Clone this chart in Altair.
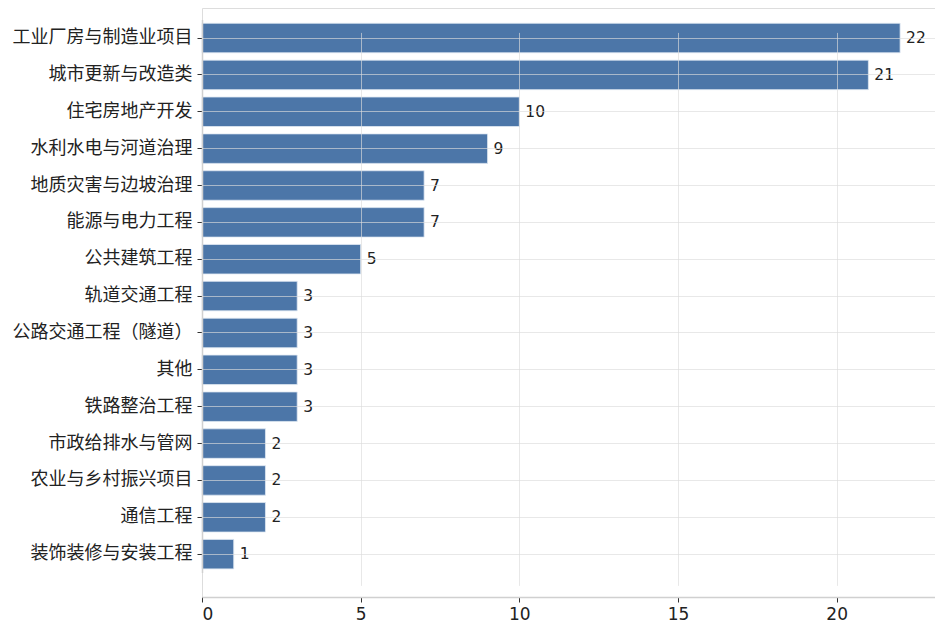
import altair as alt
import pandas as pd

categories = ["工业厂房与制造业项目", "城市更新与改造类", "住宅房地产开发", "水利水电与河道治理",
              "地质灾害与边坡治理", "能源与电力工程", "公共建筑工程", "轨道交通工程",
              "公路交通工程（隧道）", "其他", "铁路整治工程", "市政给排水与管网",
              "农业与乡村振兴项目", "通信工程", "装饰装修与安装工程"]
values = [22, 21, 10, 9, 7, 7, 5, 3, 3, 3, 3, 2, 2, 2, 1]
x_ticks = [0, 5, 10, 15, 20]

df = pd.DataFrame({"category": categories, "value": values})

H = 589
W = 733

y_enc = alt.Y("category:N", sort=categories,
              scale=alt.Scale(paddingInner=0.2, paddingOuter=0.1, range=[11.6, 564.6]),
              axis=alt.Axis(title=None, labelFont="Noto Sans CJK SC", labelFontSize=18,
                            labelColor="#222", tickColor="#333", tickSize=5, tickWidth=1,
                            domainColor="#d0d0d0", domainWidth=1.5, labelPadding=5,
                            grid=True, gridColor="#dcdcdc", gridOpacity=0.65, gridWidth=1,
                            minExtent=194, maxExtent=194, zindex=1))
x_enc = alt.X("value:Q",
              scale=alt.Scale(domain=[0, 23.1], nice=False, zero=True),
              axis=alt.Axis(title=None, values=x_ticks, labelFont="DejaVu Sans", labelFontSize=17,
                            labelColor="#222", tickColor="#333", tickSize=5, tickWidth=1,
                            domainColor="#d0d0d0", domainWidth=1.5, labelPadding=4,
                            grid=True, gridColor="#dcdcdc", gridOpacity=0.65, gridWidth=1,
                            zindex=1))

bars = alt.Chart(df).mark_bar(color="#4c76a8", stroke="#dfe8f2", strokeWidth=0.8).encode(
    x=x_enc, y=y_enc)

labels = alt.Chart(df).mark_text(align="left", baseline="middle", dx=6, fontSize=15.5,
                                 font="DejaVu Sans", color="#222").encode(
    x=alt.X("value:Q"), y=alt.Y("category:N", sort=categories), text="value:Q")

chart = alt.layer(bars, labels).properties(width=W, height=H, padding=0).configure_view(
    stroke="transparent", strokeWidth=0).configure(background="white")

chart.save("out.html", embed_options={"renderer": "svg", "actions": False})
